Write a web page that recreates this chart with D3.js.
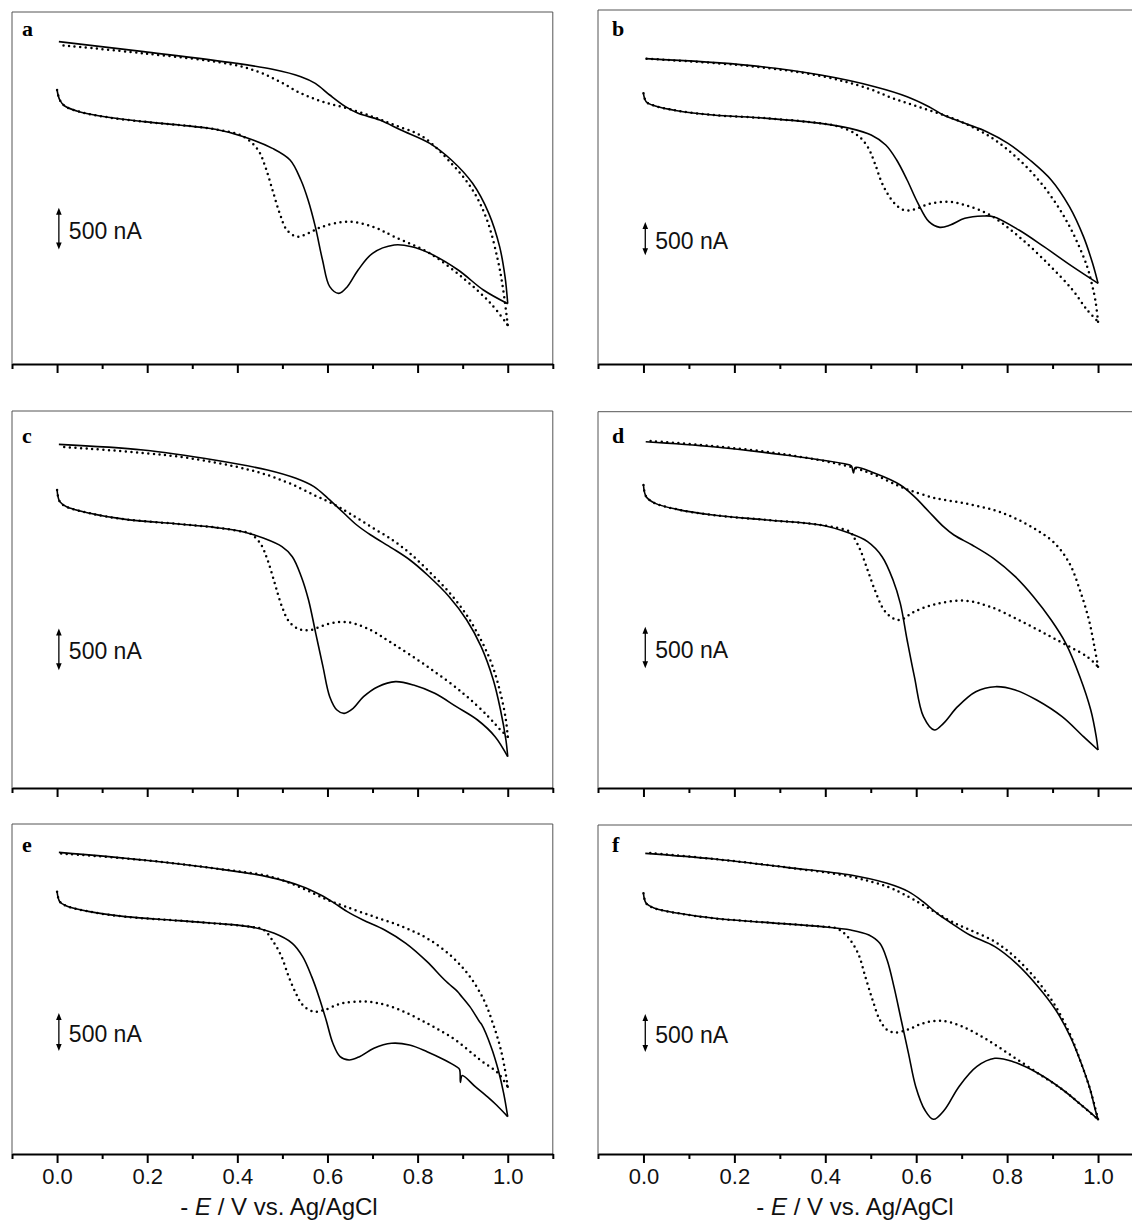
<!DOCTYPE html>
<html>
<head>
<meta charset="utf-8">
<script src="https://cdn.jsdelivr.net/npm/d3@7"></script>
<style>
  body { margin: 0; background: #fff; }
  svg { display: block; }
</style>
</head>
<body>
<script>

//
//**   Dane (E w V, prad w nA)   **/
//

var panelLetters = ["a", "b", "c", "d", "e", "f"];

var xDomain = [-0.1, 1.1];
var majorTicks = [0, 0.2, 0.4, 0.6, 0.8, 1.0];
var minorTicks = [-0.1, 0.1, 0.3, 0.5, 0.7, 0.9, 1.1];
var axisTitle = ["- ", "E", " / V vs. Ag/AgCl"];

// current at the bottom axis of each panel (top of frame = 0 nA)
var yLimits = [-4224, -5310, -4524, -4516, -4356, -4343];
// upper end of the 500 nA scale bar
var barTops = [-2350, -3180, -2610, -2580, -2495, -2495];
var barLength = 500;
var barE = 0.004;

var aSolidFwd = [[0.000,-936],[0.006,-1056],[0.017,-1128],[0.049,-1196],[0.113,-1264],[0.192,-1316],[0.271,-1356],[0.351,-1408],[0.414,-1496],[0.478,-1636],[0.517,-1776],[0.541,-2016],[0.557,-2256],[0.573,-2576],[0.589,-2976],[0.605,-3296],[0.625,-3376],[0.644,-3296],[0.668,-3096],[0.700,-2896],[0.748,-2796],[0.787,-2816],[0.827,-2896],[0.890,-3096],[0.946,-3336],[1.000,-3500]];
var aSolidRev = [[1.000,-3500],[0.994,-3176],[0.982,-2816],[0.958,-2416],[0.922,-2056],[0.875,-1776],[0.827,-1576],[0.763,-1416],[0.716,-1296],[0.668,-1216],[0.640,-1136],[0.605,-996],[0.573,-856],[0.541,-776],[0.478,-688],[0.398,-616],[0.192,-476],[0.004,-356]];
var aDotFwd = [[0.000,-936],[0.006,-1056],[0.017,-1128],[0.049,-1196],[0.113,-1264],[0.192,-1316],[0.271,-1356],[0.351,-1408],[0.414,-1496],[0.446,-1656],[0.462,-1856],[0.478,-2136],[0.494,-2416],[0.510,-2616],[0.533,-2696],[0.557,-2656],[0.589,-2576],[0.644,-2516],[0.700,-2576],[0.748,-2696],[0.827,-2896],[0.906,-3216],[0.962,-3496],[1.000,-3756]];
var aDotRev = [[1.000,-3756],[0.990,-3336],[0.978,-2976],[0.954,-2496],[0.922,-2136],[0.875,-1816],[0.811,-1496],[0.748,-1356],[0.700,-1256],[0.644,-1156],[0.589,-1076],[0.541,-976],[0.494,-836],[0.446,-716],[0.383,-624],[0.192,-496],[0.004,-396]];

var bSolidFwd = [[0.000,-1250],[0.006,-1375],[0.026,-1440],[0.074,-1510],[0.153,-1575],[0.272,-1625],[0.390,-1700],[0.454,-1775],[0.501,-1875],[0.533,-2025],[0.557,-2250],[0.580,-2550],[0.604,-2900],[0.628,-3175],[0.652,-3260],[0.675,-3225],[0.707,-3125],[0.747,-3090],[0.770,-3100],[0.826,-3300],[0.881,-3550],[0.944,-3850],[1.000,-4100]];
var bSolidRev = [[1.000,-4100],[0.988,-3800],[0.968,-3400],[0.937,-2950],[0.897,-2550],[0.850,-2250],[0.802,-2000],[0.755,-1825],[0.707,-1700],[0.660,-1575],[0.628,-1450],[0.580,-1300],[0.509,-1150],[0.390,-975],[0.232,-830],[0.005,-730]];
var bDotFwd = [[0.000,-1250],[0.006,-1375],[0.026,-1440],[0.074,-1510],[0.153,-1575],[0.272,-1625],[0.390,-1700],[0.430,-1750],[0.470,-1875],[0.493,-2050],[0.509,-2300],[0.525,-2600],[0.549,-2875],[0.572,-3000],[0.596,-2990],[0.628,-2910],[0.667,-2875],[0.707,-2925],[0.762,-3075],[0.826,-3400],[0.889,-3800],[0.944,-4200],[0.976,-4500],[1.000,-4675]];
var bDotRev = [[1.000,-4675],[0.994,-4350],[0.986,-4100],[0.976,-3850],[0.952,-3450],[0.921,-3050],[0.881,-2650],[0.842,-2350],[0.802,-2100],[0.762,-1900],[0.707,-1700],[0.660,-1575],[0.604,-1450],[0.549,-1325],[0.493,-1175],[0.390,-990],[0.232,-840],[0.005,-730]];

var cSolidFwd = [[0.000,-948],[0.006,-1088],[0.021,-1148],[0.073,-1228],[0.152,-1300],[0.270,-1356],[0.349,-1396],[0.412,-1448],[0.459,-1528],[0.499,-1628],[0.522,-1748],[0.542,-1988],[0.558,-2268],[0.574,-2668],[0.590,-3068],[0.605,-3428],[0.621,-3588],[0.637,-3628],[0.657,-3568],[0.680,-3428],[0.712,-3308],[0.751,-3248],[0.791,-3288],[0.838,-3388],[0.886,-3548],[0.933,-3708],[0.972,-3908],[1.000,-4148]];
var cSolidRev = [[1.000,-4148],[0.996,-3948],[0.984,-3588],[0.968,-3228],[0.941,-2828],[0.909,-2508],[0.870,-2228],[0.822,-1968],[0.783,-1788],[0.744,-1648],[0.696,-1488],[0.665,-1368],[0.633,-1208],[0.601,-1048],[0.570,-908],[0.530,-808],[0.467,-708],[0.349,-588],[0.191,-468],[0.004,-400]];
var cDotFwd = [[0.000,-948],[0.006,-1088],[0.021,-1148],[0.073,-1228],[0.152,-1300],[0.270,-1356],[0.349,-1396],[0.412,-1448],[0.428,-1468],[0.451,-1588],[0.467,-1788],[0.483,-2068],[0.499,-2348],[0.515,-2528],[0.538,-2620],[0.562,-2628],[0.601,-2556],[0.641,-2532],[0.688,-2608],[0.744,-2788],[0.822,-3068],[0.901,-3388],[0.957,-3668],[0.984,-3828],[1.000,-3908]];
var cDotRev = [[1.000,-3908],[0.996,-3708],[0.984,-3388],[0.964,-3028],[0.933,-2668],[0.901,-2388],[0.862,-2128],[0.822,-1908],[0.783,-1708],[0.744,-1548],[0.696,-1388],[0.649,-1228],[0.617,-1128],[0.570,-1008],[0.507,-848],[0.428,-708],[0.270,-548],[0.004,-428]];

var dSolidFwd = [[0.000,-880],[0.006,-1020],[0.026,-1100],[0.074,-1172],[0.153,-1240],[0.272,-1300],[0.390,-1360],[0.454,-1460],[0.493,-1560],[0.525,-1740],[0.549,-2020],[0.565,-2300],[0.580,-2740],[0.596,-3180],[0.616,-3660],[0.640,-3820],[0.660,-3740],[0.691,-3540],[0.731,-3360],[0.774,-3300],[0.818,-3340],[0.865,-3460],[0.921,-3660],[0.968,-3900],[1.000,-4060]];
var dSolidRev = [[1.000,-4060],[0.996,-3900],[0.984,-3580],[0.960,-3180],[0.929,-2780],[0.897,-2500],[0.858,-2220],[0.818,-1980],[0.770,-1760],[0.723,-1600],[0.683,-1480],[0.660,-1380],[0.628,-1200],[0.596,-1020],[0.565,-880],[0.509,-740],[0.466,-670],[0.462,-735],[0.458,-655],[0.454,-640],[0.311,-520],[0.153,-420],[0.005,-360]];
var dDotFwd = [[0.000,-880],[0.006,-1020],[0.026,-1100],[0.074,-1172],[0.153,-1240],[0.272,-1300],[0.390,-1360],[0.454,-1440],[0.462,-1500],[0.477,-1660],[0.493,-1900],[0.509,-2140],[0.529,-2380],[0.549,-2480],[0.565,-2500],[0.596,-2400],[0.644,-2308],[0.707,-2268],[0.762,-2340],[0.826,-2500],[0.889,-2680],[0.937,-2820],[0.976,-2940],[1.000,-3060]];
var dDotRev = [[1.000,-3060],[0.992,-2820],[0.980,-2500],[0.960,-2140],[0.937,-1820],[0.905,-1580],[0.865,-1420],[0.818,-1280],[0.770,-1180],[0.707,-1100],[0.644,-1040],[0.588,-948],[0.557,-880],[0.509,-760],[0.454,-660],[0.311,-512],[0.153,-412],[0.006,-348]];

var eSolidFwd = [[0.000,-893],[0.006,-1025],[0.021,-1082],[0.072,-1157],[0.151,-1223],[0.270,-1276],[0.348,-1311],[0.427,-1355],[0.482,-1443],[0.522,-1575],[0.545,-1751],[0.565,-2015],[0.581,-2279],[0.597,-2587],[0.612,-2895],[0.628,-3071],[0.648,-3115],[0.671,-3071],[0.703,-2961],[0.742,-2895],[0.782,-2917],[0.821,-3005],[0.860,-3115],[0.886,-3203],[0.893,-3238],[0.895,-3410],[0.899,-3320],[0.928,-3467],[0.959,-3621],[0.975,-3709],[1.000,-3863]];
var eSolidRev = [[1.000,-3863],[0.991,-3555],[0.979,-3247],[0.963,-2939],[0.942,-2645],[0.938,-2615],[0.916,-2411],[0.894,-2250],[0.890,-2220],[0.860,-2059],[0.821,-1817],[0.774,-1575],[0.727,-1399],[0.679,-1267],[0.644,-1157],[0.616,-1047],[0.585,-937],[0.545,-827],[0.466,-695],[0.348,-585],[0.191,-475],[0.004,-374]];
var eDotFwd = [[0.000,-893],[0.006,-1025],[0.021,-1082],[0.072,-1157],[0.151,-1223],[0.270,-1276],[0.348,-1311],[0.427,-1355],[0.459,-1399],[0.482,-1575],[0.498,-1751],[0.514,-2015],[0.530,-2235],[0.545,-2389],[0.569,-2477],[0.593,-2455],[0.632,-2367],[0.687,-2345],[0.742,-2411],[0.821,-2631],[0.884,-2851],[0.939,-3115],[0.979,-3291],[1.000,-3467]];
var eDotRev = [[1.000,-3467],[0.994,-3247],[0.983,-2939],[0.967,-2631],[0.947,-2323],[0.916,-2015],[0.876,-1751],[0.821,-1509],[0.766,-1355],[0.703,-1223],[0.640,-1091],[0.600,-1003],[0.545,-849],[0.474,-695],[0.348,-585],[0.191,-475],[0.004,-387]];

var fSolidFwd = [[0.000,-902],[0.006,-1034],[0.025,-1100],[0.077,-1166],[0.156,-1232],[0.275,-1289],[0.393,-1342],[0.456,-1386],[0.496,-1452],[0.520,-1562],[0.536,-1782],[0.551,-2134],[0.567,-2574],[0.583,-3014],[0.599,-3454],[0.619,-3762],[0.638,-3885],[0.662,-3762],[0.694,-3454],[0.733,-3190],[0.773,-3080],[0.813,-3124],[0.868,-3278],[0.923,-3498],[0.963,-3696],[1.000,-3885]];
var fSolidRev = [[1.000,-3885],[0.994,-3762],[0.983,-3498],[0.963,-3146],[0.939,-2794],[0.907,-2442],[0.868,-2134],[0.820,-1826],[0.773,-1606],[0.718,-1452],[0.678,-1298],[0.646,-1166],[0.615,-1012],[0.583,-880],[0.536,-770],[0.456,-660],[0.314,-559],[0.156,-449],[0.004,-374]];
var fDotFwd = [[0.000,-902],[0.006,-1034],[0.025,-1100],[0.077,-1166],[0.156,-1232],[0.275,-1289],[0.393,-1342],[0.425,-1364],[0.449,-1474],[0.472,-1694],[0.488,-2002],[0.504,-2310],[0.520,-2574],[0.536,-2706],[0.555,-2741],[0.583,-2697],[0.615,-2618],[0.654,-2583],[0.702,-2662],[0.757,-2838],[0.813,-3058],[0.868,-3278],[0.923,-3498],[0.963,-3696],[1.000,-3885]];
var fDotRev = [[1.000,-3885],[0.983,-3498],[0.963,-3146],[0.939,-2772],[0.907,-2398],[0.868,-2068],[0.820,-1760],[0.773,-1540],[0.718,-1386],[0.678,-1276],[0.646,-1166],[0.615,-1056],[0.583,-946],[0.536,-814],[0.456,-682],[0.314,-559],[0.156,-449],[0.004,-365]];

var solidCurves = [[aSolidFwd, aSolidRev], [bSolidFwd, bSolidRev], [cSolidFwd, cSolidRev],
                   [dSolidFwd, dSolidRev], [eSolidFwd, eSolidRev], [fSolidFwd, fSolidRev]];
var dottedCurves = [[aDotFwd, aDotRev], [bDotFwd, bDotRev], [cDotFwd, cDotRev],
                    [dDotFwd, dDotRev], [eDotFwd, eDotRev], [fDotFwd, fDotRev]];

//
//**   Uklad   **/
//

var width = 1132, height = 1224;

var columns = [
    {x0: 12,  x1: 552.8, labelX: 22,  titleX: 279},
    {x0: 598, x1: 1143.5, labelX: 612, titleX: 855}
];
var boxes = [
    {top: 12,    axis: 364,  letterY: 36},
    {top: 10,    axis: 364,  letterY: 36},
    {top: 411,   axis: 788,  letterY: 443},
    {top: 411.7, axis: 788,  letterY: 443},
    {top: 824,   axis: 1154, letterY: 852},
    {top: 825,   axis: 1154, letterY: 852}
];

var svg = d3.select("body").append("svg")
    .attr("width", width)
    .attr("height", height)
    .style("font-family", "'Liberation Sans', Arial, sans-serif");

var line = d3.line()
    .curve(d3.curveCatmullRom.alpha(0.5));

//
//**   Panele   **/
//

panelLetters.forEach(function(letter, i) {
    var col = columns[i % 2];
    var box = boxes[i];
    var bottomRow = i >= 4;

    var x = d3.scaleLinear().domain(xDomain).range([col.x0, col.x1]);
    var y = d3.scaleLinear().domain([0, yLimits[i]]).range([box.top, box.axis]);

    line.x(function(d) { return x(d[0]); })
        .y(function(d) { return y(d[1]); });

    var g = svg.append("g");

    // frame (top, left, right)
    g.append("path")
        .attr("d", "M" + col.x0 + "," + box.axis + "V" + box.top + "H" + col.x1 + "V" + box.axis)
        .attr("fill", "none")
        .attr("stroke", "#555")
        .attr("stroke-width", 1);

    // minor ticks
    g.append("g")
        .attr("transform", "translate(0," + box.axis + ")")
        .call(d3.axisBottom(x).tickValues(minorTicks).tickSize(5).tickFormat(""))
        .call(function(s) { s.select(".domain").remove(); })
        .selectAll("line").attr("stroke", "#000").attr("stroke-width", 2);

    // major ticks + axis line
    var gx = g.append("g")
        .attr("transform", "translate(0," + box.axis + ")")
        .call(d3.axisBottom(x)
            .tickValues(majorTicks)
            .tickSize(9)
            .tickSizeOuter(0)
            .tickPadding(5)
            .tickFormat(bottomRow ? d3.format(".1f") : ""));
    gx.select(".domain").attr("stroke", "#000").attr("stroke-width", 2);
    gx.selectAll(".tick line").attr("stroke", "#000").attr("stroke-width", 2);
    gx.selectAll(".tick text")
        .attr("fill", "#111")
        .style("font-size", "22px")
        .style("font-family", "'Liberation Sans', Arial, sans-serif");

    // curves
    solidCurves[i].forEach(function(branch) {
        g.append("path")
            .attr("d", line(branch))
            .attr("fill", "none")
            .attr("stroke", "#000")
            .attr("stroke-width", 1.6)
            .attr("stroke-linejoin", "round");
    });
    dottedCurves[i].forEach(function(branch) {
        g.append("path")
            .attr("d", line(branch))
            .attr("fill", "none")
            .attr("stroke", "#000")
            .attr("stroke-width", 2.5)
            .attr("stroke-linecap", "round")
            .attr("stroke-dasharray", "0 5.6");
    });

    // panel letter
    g.append("text")
        .attr("x", col.labelX)
        .attr("y", box.letterY)
        .style("font-family", "'Liberation Serif', 'Times New Roman', serif")
        .style("font-weight", "bold")
        .style("font-size", "22px")
        .text(letter);

    // 500 nA scale bar
    var bx = x(barE);
    var b0 = y(barTops[i]);
    var b1 = y(barTops[i] - barLength);
    g.append("line")
        .attr("x1", bx).attr("x2", bx)
        .attr("y1", b0 + 4).attr("y2", b1 - 4)
        .attr("stroke", "#000")
        .attr("stroke-width", 1.3);
    g.append("path")
        .attr("d", "M" + bx + "," + b0 + "l-2.8,7h5.6z" + "M" + bx + "," + b1 + "l-2.8,-7h5.6z")
        .attr("fill", "#000");
    g.append("text")
        .attr("x", bx + 10)
        .attr("y", (b0 + b1) / 2 + 10)
        .style("font-size", "23px")
        .attr("fill", "#111")
        .text(barLength + " nA");

    // axis title
    if (bottomRow) {
        var t = g.append("text")
            .attr("x", col.titleX)
            .attr("y", 1215)
            .attr("text-anchor", "middle")
            .attr("fill", "#111")
            .style("font-size", "24px");
        t.append("tspan").text(axisTitle[0]);
        t.append("tspan").style("font-style", "italic").text(axisTitle[1]);
        t.append("tspan").text(axisTitle[2]);
    }
});

</script>
</body>
</html>
